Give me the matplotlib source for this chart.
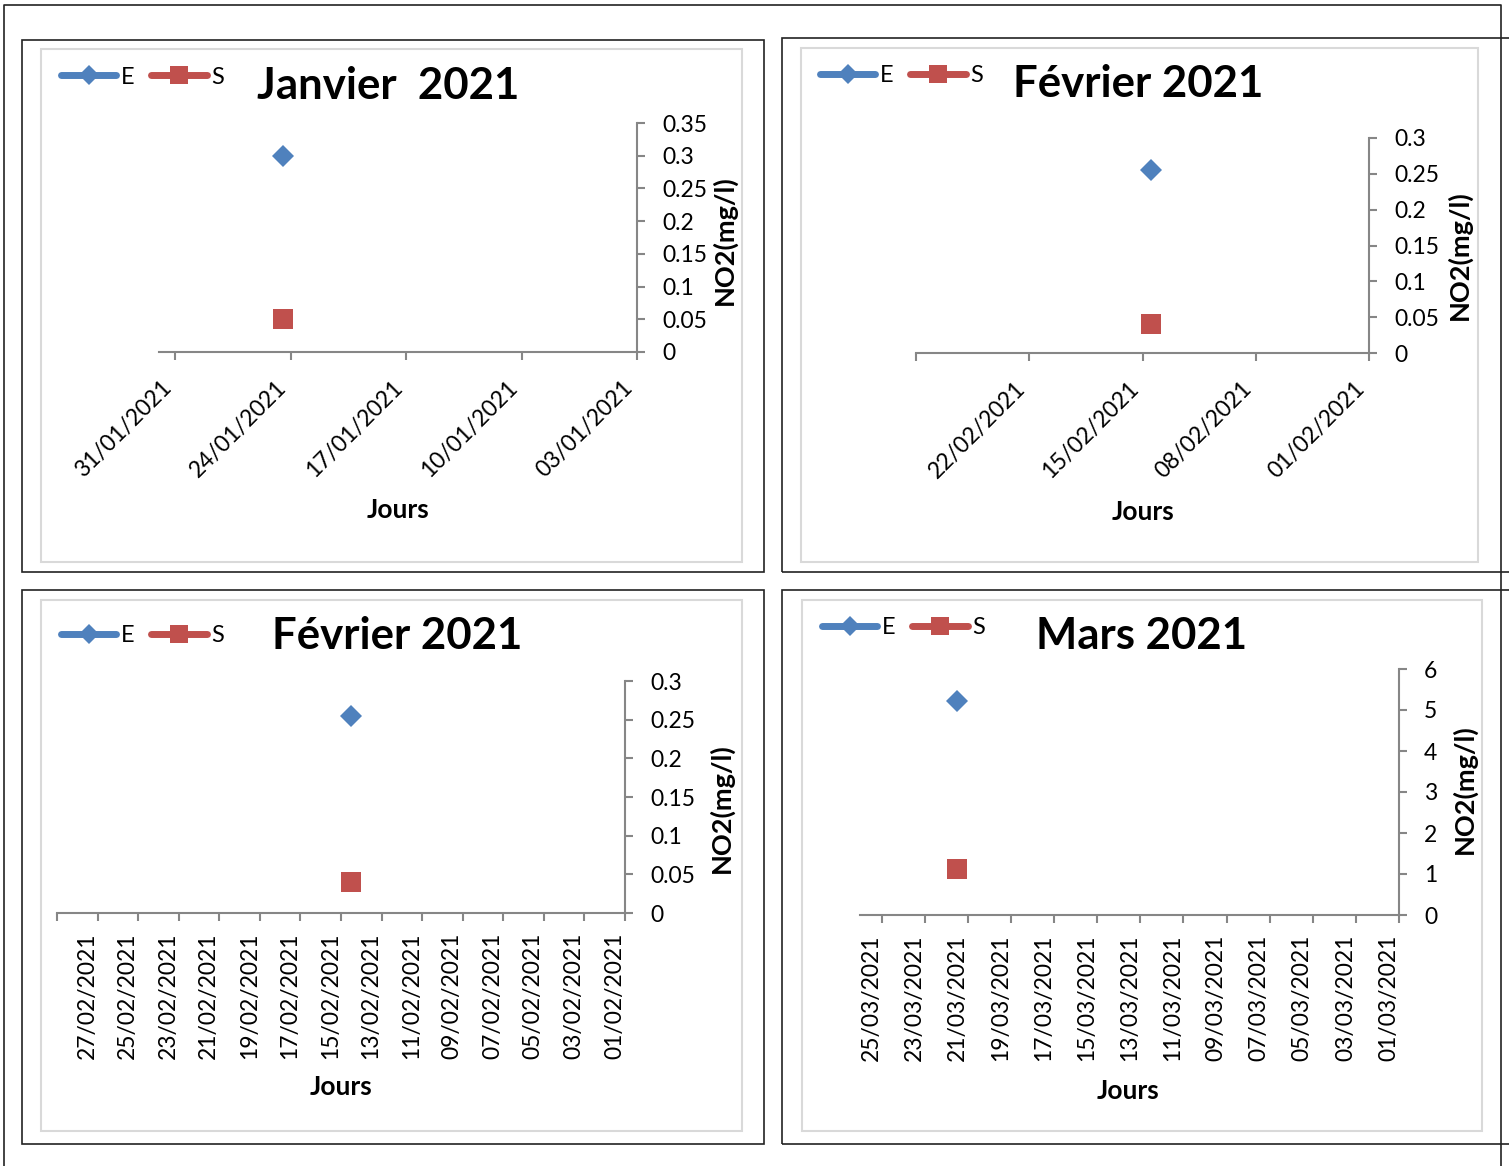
import matplotlib
matplotlib.use('Agg')
import matplotlib.pyplot as plt
from matplotlib.patches import Rectangle

plt.rcParams['font.family'] = ['Lato', 'DejaVu Sans']

W, H = 1509, 1166
BLUE = '#4F81BD'
RED = '#C0504D'
AXIS_GREY = '#868686'

# --- data (day of month, NO2 in mg/l) ---
jan_ticks = [31, 24, 17, 10, 3]
jan_labels = ['31/01/2021', '24/01/2021', '17/01/2021', '10/01/2021', '03/01/2021']
jan_days = [24]
jan_E = [0.30]
jan_S = [0.05]
jan_yticks = [0, 0.05, 0.1, 0.15, 0.2, 0.25, 0.3, 0.35]

feb_w_ticks = [29, 22, 15, 8, 1]
feb_w_labels = ['', '22/02/2021', '15/02/2021', '08/02/2021', '01/02/2021']
feb_days = [14]
feb_E = [0.255]
feb_S = [0.04]
feb_yticks = [0, 0.05, 0.1, 0.15, 0.2, 0.25, 0.3]

feb_d_ticks = [29, 27, 25, 23, 21, 19, 17, 15, 13, 11, 9, 7, 5, 3, 1]
feb_d_labels = ['', '27/02/2021', '25/02/2021', '23/02/2021', '21/02/2021',
                '19/02/2021', '17/02/2021', '15/02/2021', '13/02/2021',
                '11/02/2021', '09/02/2021', '07/02/2021', '05/02/2021',
                '03/02/2021', '01/02/2021']

mar_ticks = [25, 23, 21, 19, 17, 15, 13, 11, 9, 7, 5, 3, 1]
mar_labels = ['25/03/2021', '23/03/2021', '21/03/2021', '19/03/2021',
              '17/03/2021', '15/03/2021', '13/03/2021', '11/03/2021',
              '09/03/2021', '07/03/2021', '05/03/2021', '03/03/2021',
              '01/03/2021']
mar_days = [21]
mar_E = [5.21]
mar_S = [1.11]
mar_yticks = [0, 1, 2, 3, 4, 5, 6]


def fx(x):
    return x / W


def fy(y):
    return 1 - y / H


def rect(fig, x0, y0, x1, y1, color, lw):
    fig.add_artist(Rectangle((fx(x0), fy(y1)), fx(x1) - fx(x0), fy(y0) - fy(y1),
                             transform=fig.transFigure, fill=False,
                             edgecolor=color, linewidth=lw))


def panel(fig, box, inner, axbox, xlim, ticks, labels, rot, days, e_vals, s_vals,
          yticks, title, title_xy, legend_xy, jours_xy, ylab_xy):
    rect(fig, *box, '#222222', 1.2)
    rect(fig, *inner, '#D9D9D9', 1.5)

    l, t, r, b = axbox
    ax = fig.add_axes([fx(l), fy(b), fx(r) - fx(l), fy(t) - fy(b)])
    ax.patch.set_visible(False)
    # Excel draws each point in the middle of its day
    xs = [d + 0.5 for d in days]
    le, = ax.plot(xs, e_vals, color=BLUE, marker='D', ms=11, mew=0, lw=5,
                  solid_capstyle='round', clip_on=False, label='E')
    ls, = ax.plot(xs, s_vals, color=RED, marker='s', ms=14, mew=0, lw=5,
                  solid_capstyle='round', clip_on=False, label='S')
    ax.set_xlim(xlim)
    ax.set_ylim(yticks[0], yticks[-1])

    for side in ['top', 'left']:
        ax.spines[side].set_visible(False)
    for side in ['right', 'bottom']:
        ax.spines[side].set_color(AXIS_GREY)
        ax.spines[side].set_linewidth(1.5)

    ax.yaxis.tick_right()
    ax.set_yticks(yticks)
    ax.set_yticklabels(['%g' % v for v in yticks])
    ax.tick_params(axis='y', length=6, width=1.5, color=AXIS_GREY, pad=12,
                   labelsize=16.5)

    ax.set_xticks(ticks)
    if rot == 45:
        ax.set_xticklabels(labels, rotation=45, ha='right', va='top')
        ax.tick_params(axis='x', length=6, width=1.5, color=AXIS_GREY, pad=12,
                       labelsize=16.5)
    else:
        ax.set_xticklabels(labels, rotation=90, ha='right', va='top')
        ax.tick_params(axis='x', length=6, width=1.5, color=AXIS_GREY, pad=8,
                       labelsize=16.5)

    fig.text(fx(title_xy[0]), fy(title_xy[1]), title, ha='center', va='baseline',
             fontsize=31.5, fontweight='bold')
    fig.text(fx(jours_xy[0]), fy(jours_xy[1]), 'Jours', ha='center', va='baseline',
             fontsize=19, fontweight='bold')
    fig.text(fx(ylab_xy[0]), fy(ylab_xy[1]), 'NO2(mg/l)', ha='center', va='center',
             rotation=90, fontsize=19.5, fontweight='bold')
    fig.legend([le, ls], ['E', 'S'], loc='center left',
               bbox_to_anchor=(fx(legend_xy[0]), fy(legend_xy[1])), ncol=2,
               frameon=False, fontsize=17, handlelength=2.35, handletextpad=0.2,
               columnspacing=0.7, borderpad=0, borderaxespad=0, markerscale=0.9)
    return ax


fig = plt.figure(figsize=(W / 100, H / 100), dpi=100)

# outer frame (open at the bottom)
fig.add_artist(plt.Line2D([fx(4), fx(4), fx(1501), fx(1501)],
                          [0, fy(5), fy(5), 0], transform=fig.transFigure,
                          color='#222222', lw=1.2))

panel(fig, (22, 40, 764, 572), (41, 49, 742, 562), (159, 123, 637, 352),
      (32, 3), jan_ticks, jan_labels, 45, jan_days, jan_E, jan_S, jan_yticks,
      'Janvier  2021', (388, 99), (61, 77), (398, 518), (724, 240))

panel(fig, (782, 38, 1520, 572), (801, 48, 1478, 562), (916, 138, 1369, 353),
      (29, 1), feb_w_ticks, feb_w_labels, 45, feb_days, feb_E, feb_S, feb_yticks,
      'Février 2021', (1138, 97), (820, 76), (1143, 520), (1459, 255))

panel(fig, (22, 590, 764, 1144), (41, 600, 742, 1131), (57, 681, 625, 913),
      (29, 1), feb_d_ticks, feb_d_labels, 90, feb_days, feb_E, feb_S, feb_yticks,
      'Février 2021', (397, 649), (61, 636), (341, 1095), (721, 808))

panel(fig, (782, 590, 1520, 1144), (802, 600, 1482, 1131), (860, 669, 1399, 915),
      (26, 1), mar_ticks, mar_labels, 90, mar_days, mar_E, mar_S, mar_yticks,
      'Mars 2021', (1142, 649), (822, 628), (1128, 1099), (1464, 789))

fig.savefig('out.png', dpi=100)
